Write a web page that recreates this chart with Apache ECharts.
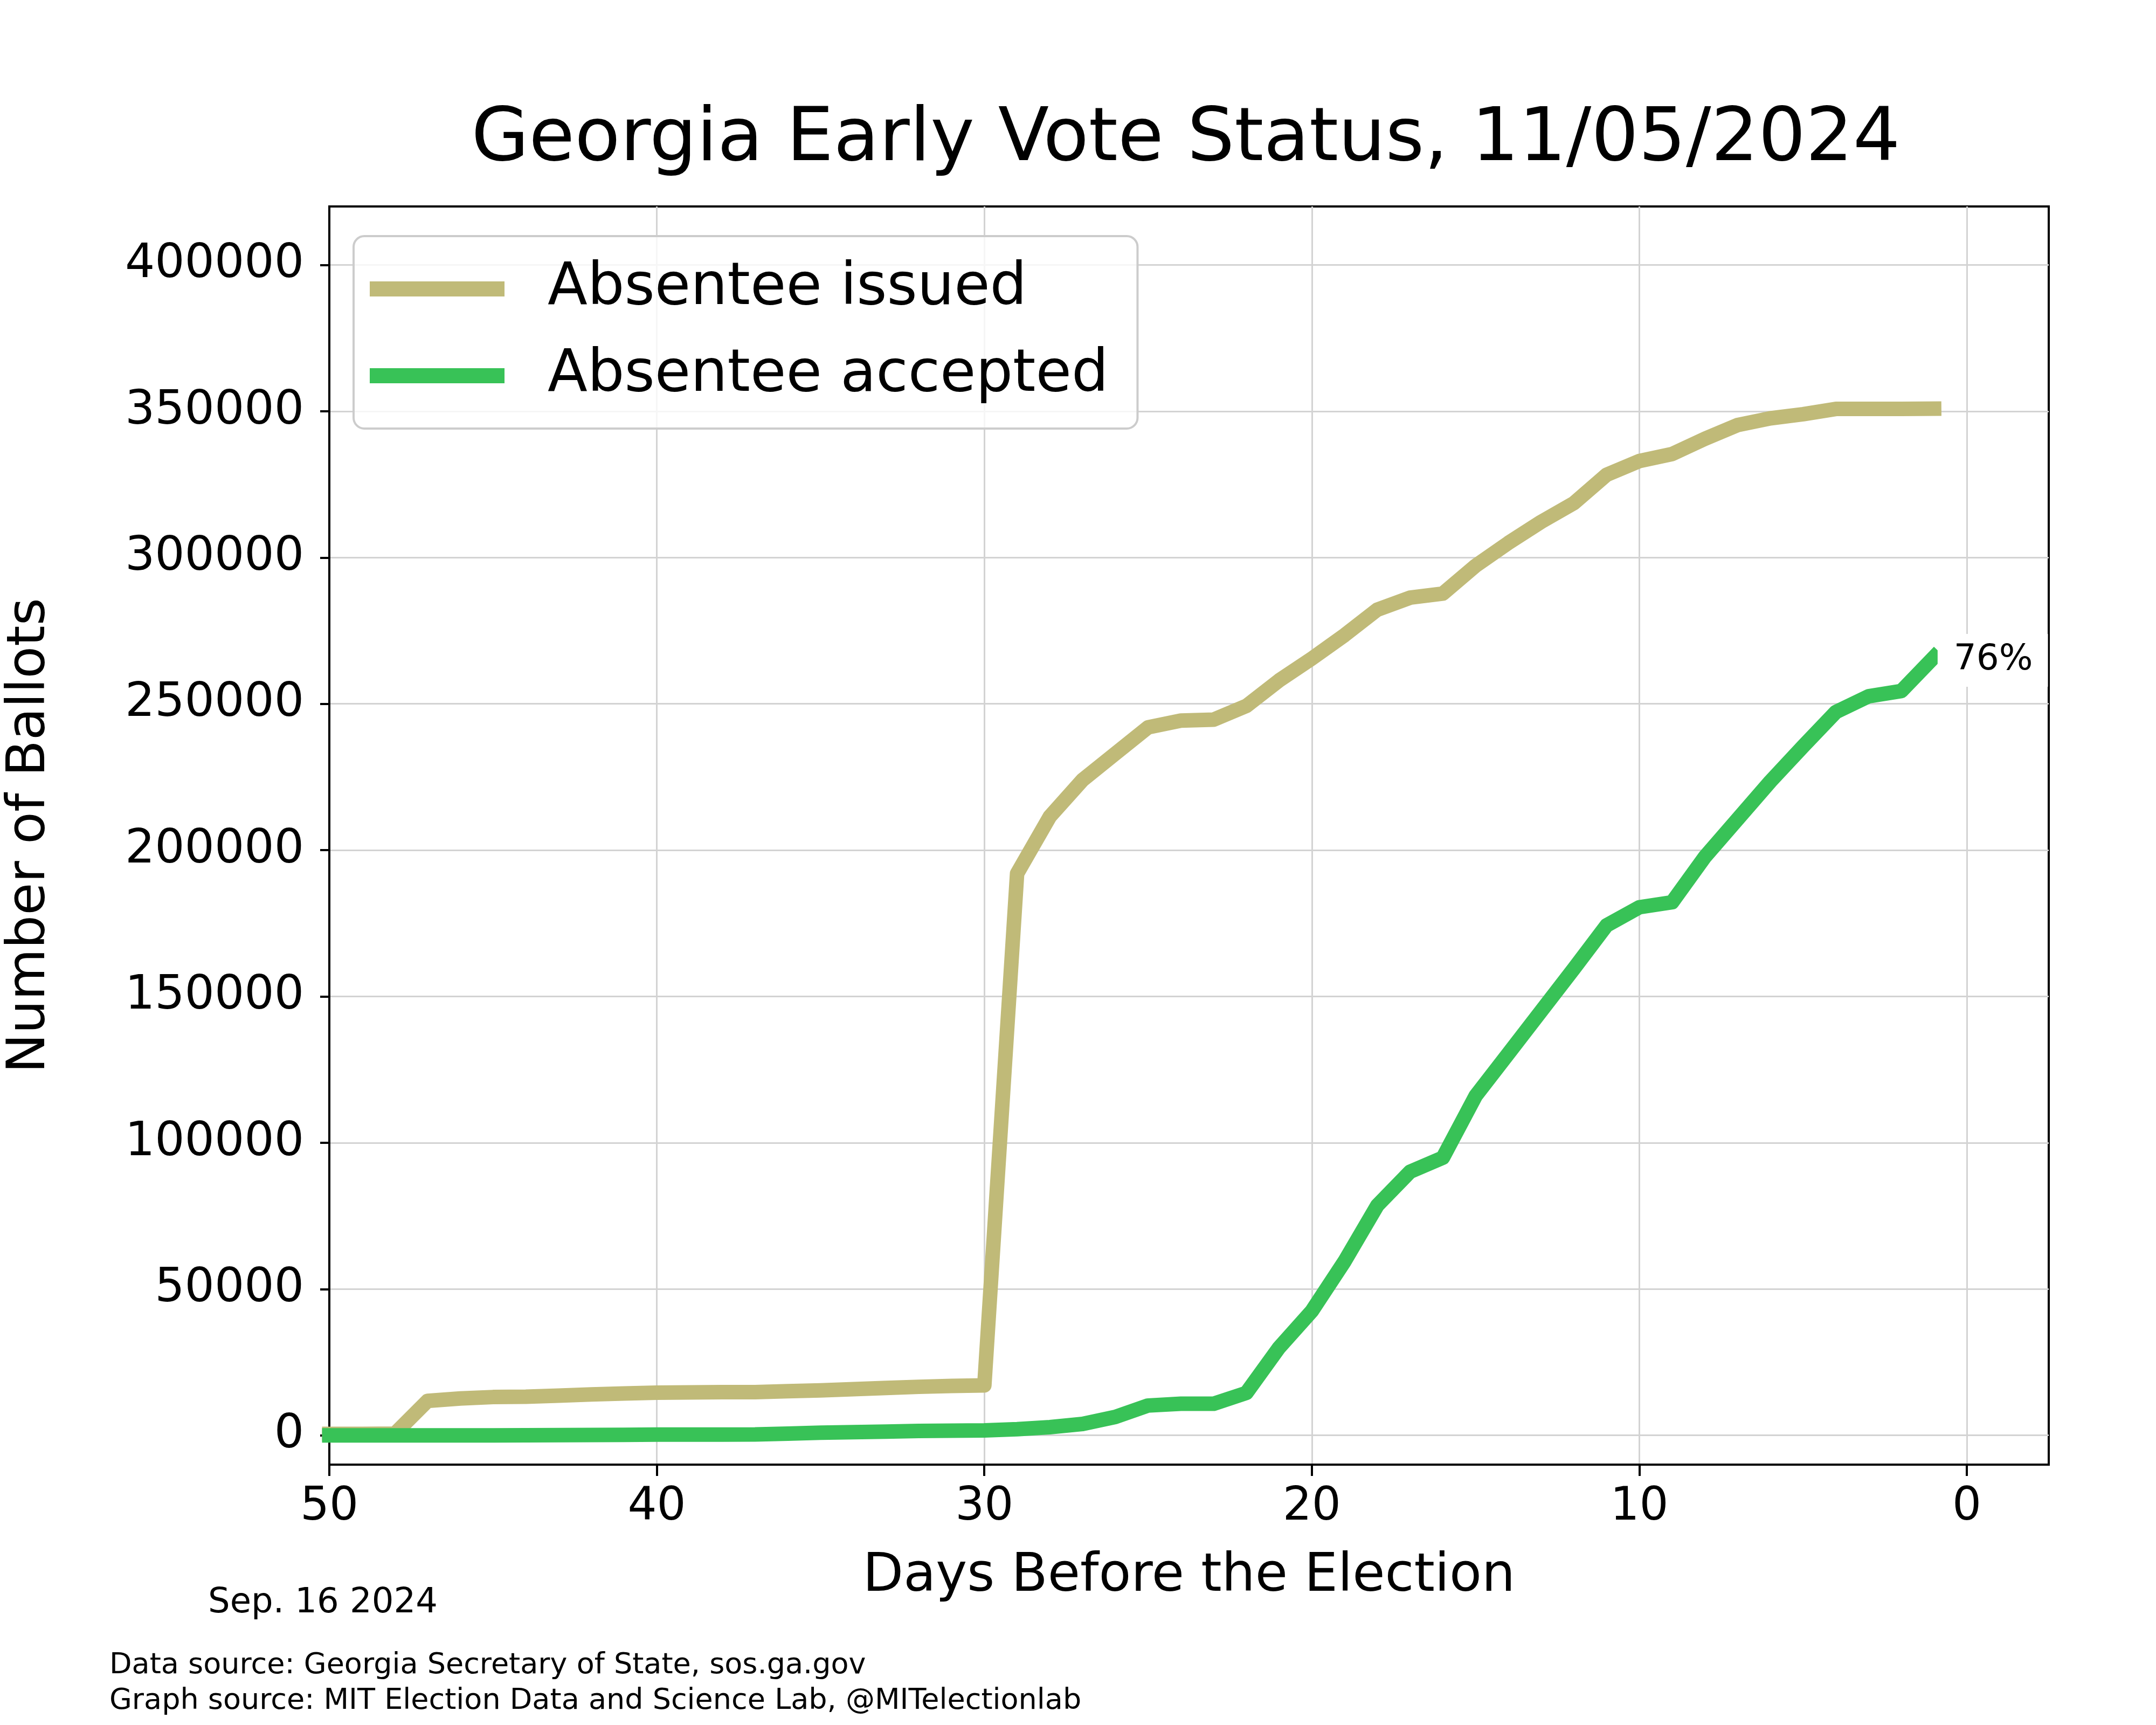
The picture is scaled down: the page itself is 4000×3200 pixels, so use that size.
<!DOCTYPE html>
<html><head><meta charset="utf-8">
<script src="https://cdn.jsdelivr.net/npm/echarts@6.0.0/dist/echarts.min.js"></script>
<style>html,body{margin:0;padding:0;background:#fff}#chart{width:4000px;height:3200px}</style>
</head><body><div id="chart"></div>
<script>
const days = [50,49,48,47,46,45,44,43,42,41,40,39,38,37,36,35,34,33,32,31,30,29,28,27,26,25,24,23,22,21,20,19,18,17,16,15,14,13,12,11,10,9,8,7,6,5,4,3,2,1];
const absenteeIssued = [500,500,600,11800,12600,13100,13200,13600,14000,14300,14600,14700,14800,14800,15100,15400,15800,16200,16600,16900,17100,192000,211500,224000,233000,242000,244300,244600,249300,258000,265500,273500,282200,286300,287700,297200,305000,312200,318600,328300,333000,335400,340600,345300,347600,349000,350800,350800,350800,350900];
const absenteeAccepted = [0,0,0,0,0,0,50,100,150,200,250,250,250,300,600,900,1100,1300,1500,1600,1700,2100,2800,3900,6300,10200,10800,10800,14500,30000,42500,59500,78600,90100,94900,116000,130500,145000,159500,174300,180500,182200,197700,210600,223500,235500,247200,252600,254400,266000];
const seriesNames = ['Absentee issued','Absentee accepted'];
const xTickValues = [50,40,30,20,10,0];
const yTickValues = [0,50000,100000,150000,200000,250000,300000,350000,400000];
const titleText = 'Georgia Early Vote Status, 11/05/2024';
const xAxisName = 'Days Before the Election';
const yAxisName = 'Number of Ballots';
const startDateText = 'Sep. 16 2024';
const footerLines = ['Data source: Georgia Secretary of State, sos.ga.gov','Graph source: MIT Election Data and Science Lab, @MITelectionlab'];

const FONT = 'DejaVu Sans';
const TAN = '#c0ba78';
const GREEN = '#38c257';
const GRID = '#d3d3d3';

const lastIdx = days.length - 1;
const pctText = Math.round(absenteeAccepted[lastIdx] / absenteeIssued[lastIdx] * 100) + '%';

const chart = echarts.init(document.getElementById('chart'), null, {renderer:'canvas'});
chart.setOption({
  animation:false,
  backgroundColor:'#ffffff',
  title:{
    text:titleText, left:2200, top:192, padding:0,
    textAlign:'center', textVerticalAlign:'top',
    textStyle:{fontSize:138, fontWeight:'normal', color:'#000', fontFamily:FONT}
  },
  grid:{left:600, top:383, width:3201, height:2334, show:true, borderColor:'#000', borderWidth:4, containLabel:false},
  legend:{
    orient:'vertical', left:656, top:438,
    itemWidth:250, itemHeight:28, itemGap:31, icon:'rect',
    padding:[33,54,33,30],
    backgroundColor:'rgba(255,255,255,0.8)', borderColor:'#cccccc', borderWidth:4, borderRadius:20,
    textStyle:{fontSize:108, fontFamily:FONT, color:'#000', lineHeight:130, padding:[0,0,0,75]},
    data:seriesNames
  },
  xAxis:{
    type:'value', min:-2.5, max:50, inverse:true,
    name:xAxisName, nameLocation:'middle', nameGap:160,
    nameTextStyle:{fontSize:98, fontFamily:FONT, color:'#000'},
    axisLine:{show:true, onZero:false, lineStyle:{color:'#000', width:4}},
    axisTick:{show:true, inside:false, length:21, customValues:xTickValues, lineStyle:{color:'#000', width:4}},
    axisLabel:{customValues:xTickValues, fontSize:85, margin:37, color:'#000', fontFamily:FONT},
    splitLine:{show:true, lineStyle:{color:GRID, width:3}}
  },
  yAxis:{
    type:'value', min:-10000, max:420000,
    name:yAxisName, nameLocation:'middle', nameGap:505, nameRotate:90,
    nameTextStyle:{fontSize:98, fontFamily:FONT, color:'#000'},
    axisLine:{show:true, onZero:false, lineStyle:{color:'#000', width:4}},
    axisTick:{show:true, inside:false, length:17, customValues:yTickValues, lineStyle:{color:'#000', width:4}},
    axisLabel:{customValues:yTickValues, fontSize:87, margin:47, color:'#000', fontFamily:FONT,
      formatter:(v)=>String(v)},
    splitLine:{show:true, lineStyle:{color:GRID, width:3}}
  },
  series:[
    {
      name:seriesNames[0], type:'line', showSymbol:false, symbol:'none',
      data:days.map((d,i)=>[d, absenteeIssued[i]]),
      lineStyle:{color:TAN, width:27, cap:'square', join:'round'},
      itemStyle:{color:TAN}
    },
    {
      name:seriesNames[1], type:'line', showSymbol:false, symbol:'none',
      data:days.map((d,i)=>[d, absenteeAccepted[i]]),
      lineStyle:{color:GREEN, width:27, cap:'square', join:'round'},
      itemStyle:{color:GREEN},
      markPoint:{
        symbol:'circle', symbolSize:1, silent:true,
        itemStyle:{color:'rgba(0,0,0,0)'},
        label:{show:true, position:'right', distance:6, offset:[0,6], formatter:pctText, color:'#000',
          fontSize:66, fontFamily:FONT, backgroundColor:'#fff', padding:[16,28,16,30]},
        data:[{coord:[days[lastIdx], absenteeAccepted[lastIdx]]}]
      }
    }
  ],
  graphic:[
    {type:'text', left:386, top:2942, style:{text:startDateText, fontSize:64, fontFamily:FONT, fill:'#000'}},
    {type:'text', left:203, top:3063, style:{text:footerLines[0], fontSize:54, fontFamily:FONT, fill:'#000'}},
    {type:'text', left:203, top:3129, style:{text:footerLines[1], fontSize:54, fontFamily:FONT, fill:'#000'}}
  ]
});
</script>
</body></html>
